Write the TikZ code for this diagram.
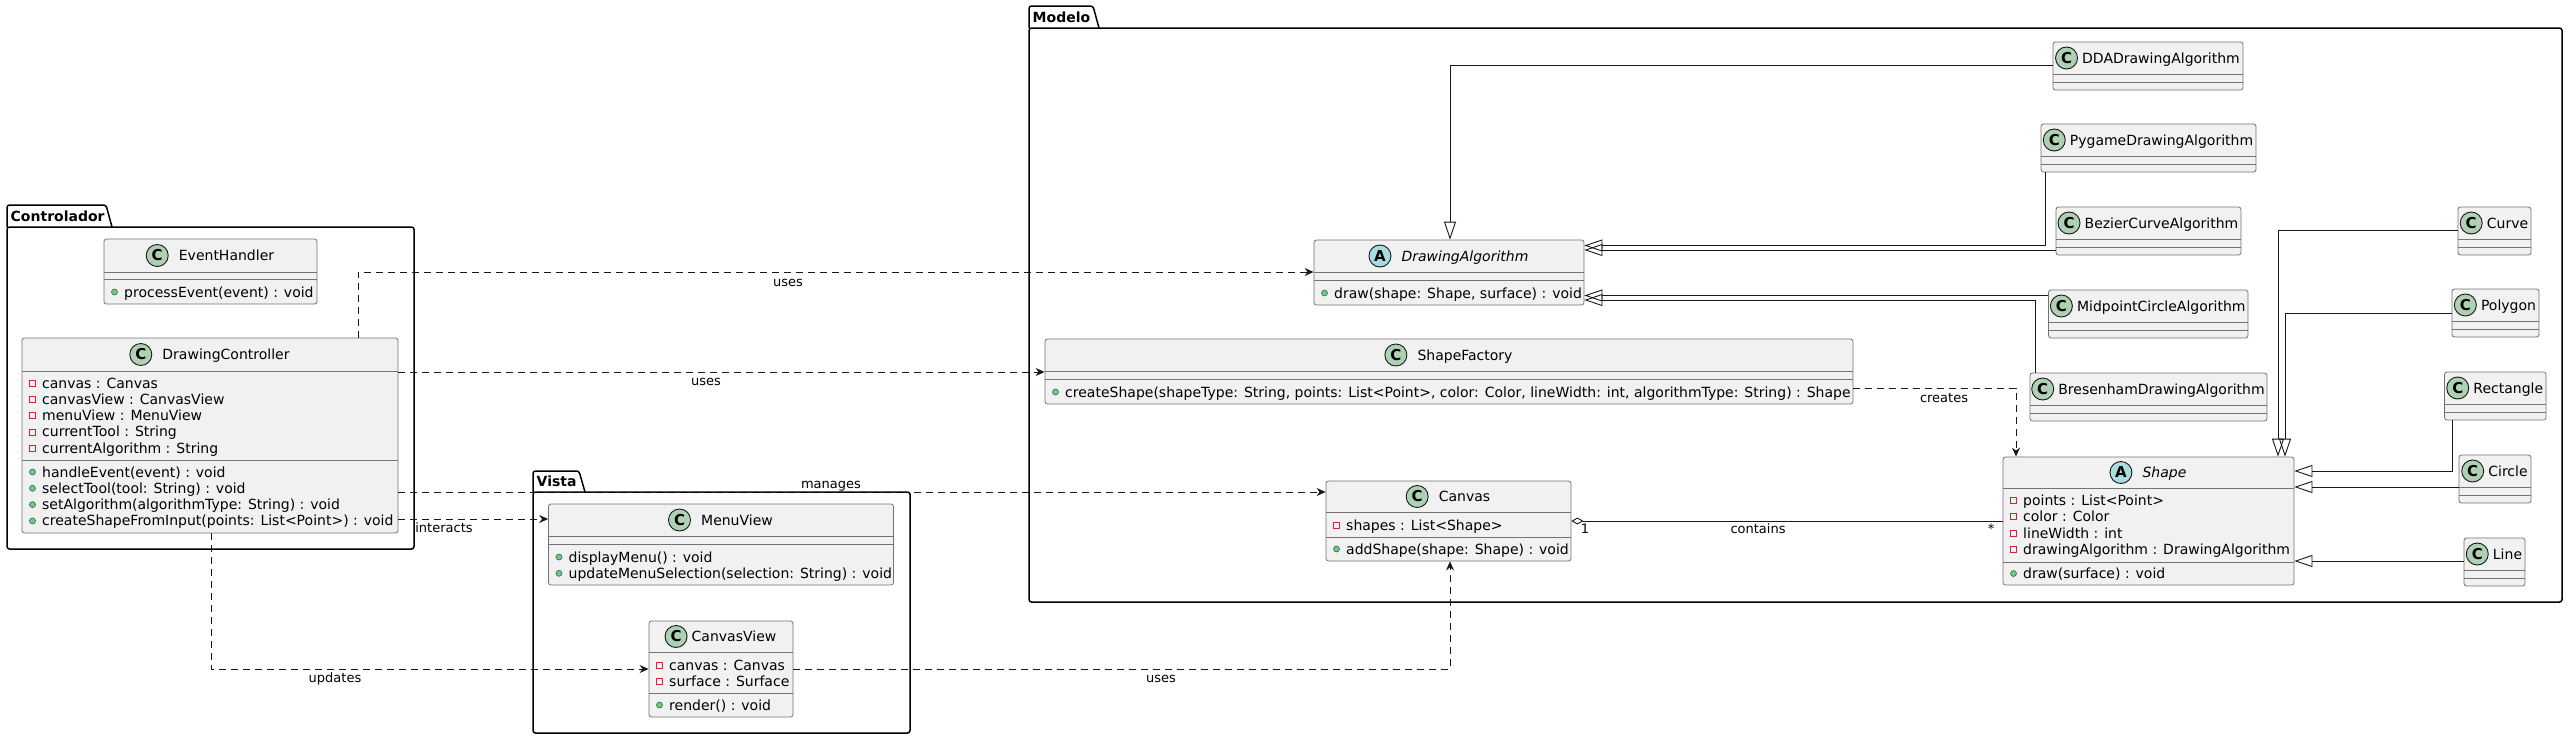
\documentclass[tikz,border=0pt]{standalone}
\usepackage{fontspec}
\setmainfont{DejaVu Sans}
\usetikzlibrary{arrows.meta,fit,calc}
\definecolor{clsbg}{HTML}{F1F1F1}
\definecolor{iconC}{HTML}{ADD1B2}
\definecolor{iconA}{HTML}{A9DCDF}
\definecolor{privc}{HTML}{C82930}
\definecolor{pubf}{HTML}{84BE84}
\definecolor{pubd}{HTML}{038048}
\definecolor{lnc}{HTML}{181818}
\tikzset{
 classbox/.style={draw=black!55, fill=clsbg, line width=0.8pt, rounded corners=2.5pt, inner sep=0pt},
 sepline/.style={draw=black!55, line width=0.8pt},
 ticon/.style={circle, draw=lnc, line width=0.9pt, minimum size=22pt, inner sep=0pt, font=\fontsize{15}{15}\selectfont\bfseries},
 cicon/.style={ticon, fill=iconC},
 aicon/.style={ticon, fill=iconA},
 ttl/.style={inner sep=0pt, font=\fontsize{14}{16}\selectfont, text height=10pt, text depth=0pt},
 mem/.style={anchor=west, inner sep=0pt, font=\fontsize{14}{16}\selectfont, text height=10pt, text depth=0pt},
 lbl/.style={inner sep=0pt, font=\fontsize{13}{15}\selectfont, text height=9pt, text depth=0pt},
 pkglbl/.style={anchor=west, inner sep=0pt, font=\fontsize{14}{16}\selectfont\bfseries, text height=10pt, text depth=0pt},
 pkg/.style={draw=black, line width=1.5pt, rounded corners=2.5pt},
 dep/.style={draw=lnc, line width=0.9pt, dash pattern=on 7pt off 5pt, -{Stealth[length=9pt,width=8pt,inset=3pt]}},
 gen/.style={draw=lnc, line width=0.9pt, -{Triangle[open, length=18pt, width=12pt]}},
 agg/.style={draw=lnc, line width=0.9pt, {Diamond[open, length=12pt, width=7pt]}-},
}
\newcommand\sepl[3]{\draw[sepline] (#1,#3) -- (#2,#3);}
% node, center y, icon style, letter, title, gap
\newcommand\hdr[6]{%
 \node[ttl] (#1-t) at ($(#1.north |- 0,#2)+({(22+#6)/2},0)$) {#5};
 \node[#3, anchor=east] (#1-i) at ($(#1-t.west)+(-#6,0)$) {#4};}
\newcommand\pubm[3]{\filldraw[fill=pubf, draw=pubd, line width=0.6pt] (#1+10.5,#2) circle[radius=3pt]; \node[mem] at (#1+20,#2) {#3};}
\newcommand\privm[3]{\draw[draw=privc, line width=0.8pt] (#1+7.5,#2-3) rectangle (#1+13.5,#2+3); \node[mem] at (#1+20,#2) {#3};}
% empty class: name x1 x2 top title
\newcommand\ecls[5]{%
 \node[classbox, fit={(#2,#4) (#3,#4+48)}] (#1) {};
 \sepl{#2}{#3}{#4+32}\sepl{#2}{#3}{#4+40}
 \hdr{#1}{#4+16}{cicon}{C}{#5}{4}}
% package: x1 ytab ybody x2 ybot xtab label name
\newcommand\pkgbox[8]{%
 \draw[pkg] (#1,#3) rectangle (#4,#5);
 \draw[pkg] (#1,#3) -- (#1,#2) -- (#6,#2) -- (#6+6,#3);
 \node[pkglbl] (#8) at (#1+3.5,{(#2+#3)/2}) {#7};}
\begin{document}
\begin{tikzpicture}[x=1pt,y=-1pt]
\useasboundingbox (0,0) rectangle (2568,739);
\fill[white] (0,0) rectangle (2568,739);
% packages
\pkgbox{7}{205}{227}{414}{549}{106}{Controlador}{pk-ctrl}
\pkgbox{533}{471}{492}{910}{733}{579}{Vista}{pk-vista}
\pkgbox{1029}{6}{28}{2562}{602}{1093}{Modelo}{pk-mod}
% EventHandler
\node[classbox, fit={(104,239) (317,304)}] (eh) {};
\sepl{104}{317}{272}\sepl{104}{317}{279}
\hdr{eh}{255.5}{cicon}{C}{EventHandler}{10}
\pubm{104}{292}{processEvent(event) : void}
% DrawingController
\node[classbox, fit={(22,338) (398,533)}] (dc) {};
\sepl{22}{398}{371}\sepl{22}{398}{460}
\hdr{dc}{354.5}{cicon}{C}{DrawingController}{10}
\privm{22}{383}{canvas : Canvas}
\privm{22}{399.3}{canvasView : CanvasView}
\privm{22}{415.6}{menuView : MenuView}
\privm{22}{431.9}{currentTool : String}
\privm{22}{448.2}{currentAlgorithm : String}
\pubm{22}{472}{handleEvent(event) : void}
\pubm{22}{488.3}{selectTool(tool: String) : void}
\pubm{22}{504.6}{setAlgorithm(algorithmType: String) : void}
\pubm{22}{520.9}{createShapeFromInput(points: List<Point>) : void}
% MenuView
\node[classbox, fit={(548.5,504) (893.5,585)}] (mv) {};
\sepl{548.5}{893.5}{536}\sepl{548.5}{893.5}{544}
\hdr{mv}{520}{cicon}{C}{MenuView}{10}
\pubm{548.5}{557}{displayMenu() : void}
\pubm{548.5}{573.3}{updateMenuSelection(selection: String) : void}
% CanvasView
\node[classbox, fit={(649,621) (793,717)}] (cv) {};
\sepl{649}{793}{652}\sepl{649}{793}{693}
\hdr{cv}{636.5}{cicon}{C}{CanvasView}{4}
\privm{649}{665}{canvas : Canvas}
\privm{649}{681.3}{surface : Surface}
\pubm{649}{705}{render() : void}
% DrawingAlgorithm
\node[classbox, fit={(1314,240) (1584,305)}] (da) {};
\sepl{1314}{1584}{272}\sepl{1314}{1584}{280}
\hdr{da}{256}{aicon}{A}{\itshape DrawingAlgorithm}{10}
\pubm{1314}{293}{draw(shape: Shape, surface) : void}
% ShapeFactory
\node[classbox, fit={(1045,339) (1853,404)}] (sf) {};
\sepl{1045}{1853}{371}\sepl{1045}{1853}{379}
\hdr{sf}{355}{cicon}{C}{ShapeFactory}{10}
\pubm{1045}{392}{createShape(shapeType: String, points: List<Point>, color: Color, lineWidth: int, algorithmType: String) : Shape}
% Canvas
\node[classbox, fit={(1326,481) (1571,561)}] (canvas) {};
\sepl{1326}{1571}{512}\sepl{1326}{1571}{537}
\hdr{canvas}{496.5}{cicon}{C}{Canvas}{10}
\privm{1326}{525.5}{shapes : List<Shape>}
\pubm{1326}{549}{addShape(shape: Shape) : void}
% Shape
\node[classbox, fit={(2003,457) (2294,585)}] (shape) {};
\sepl{2003}{2294}{488}\sepl{2003}{2294}{562}
\hdr{shape}{472.5}{aicon}{A}{\itshape Shape}{10}
\privm{2003}{500.5}{points : List<Point>}
\privm{2003}{516.8}{color : Color}
\privm{2003}{533.1}{lineWidth : int}
\privm{2003}{549.4}{drawingAlgorithm : DrawingAlgorithm}
\pubm{2003}{573.5}{draw(surface) : void}
% algorithm classes
\ecls{dda}{2053}{2243}{42}{DDADrawingAlgorithm}
\ecls{py}{2041}{2256}{124}{PygameDrawingAlgorithm}
\ecls{bz}{2056}{2241}{207}{BezierCurveAlgorithm}
\ecls{mp}{2048.5}{2248}{290}{MidpointCircleAlgorithm}
\ecls{br}{2030}{2267}{373}{BresenhamDrawingAlgorithm}
% shape classes
\ecls{cu}{2458}{2531}{207}{Curve}
\ecls{pg}{2452}{2539}{289}{Polygon}
\ecls{re}{2444.5}{2546}{372}{Rectangle}
\ecls{ci}{2459}{2531}{455}{Circle}
\ecls{li}{2464}{2525}{538}{Line}
% dependencies
\draw[dep] (358,0 |- dc.north) |- (da.west |- 0,272);
\draw[dep] (dc.east |- 0,372) -- (sf.west |- 0,372);
\draw[dep] (dc.east |- 0,492) -- (canvas.west |- 0,492);
\draw[dep] (dc.east |- 0,519) -- (mv.west |- 0,519);
\draw[dep] (211,0 |- dc.south) |- (cv.west |- 0,669);
\draw[dep] (cv.east |- 0,669) -| (1450,0 |- canvas.south);
\draw[dep] (sf.east |- 0,388) -| (2016,0 |- shape.north);
% aggregation
\draw[agg] (canvas.east |- 0,521) -- (shape.west |- 0,521);
% generalizations
\draw[gen] (dda.west |- 0,65) -| (1450,0 |- da.north);
\draw[gen] (2045,0 |- py.south) |- (da.east |- 0,245.5);
\draw[gen] (bz.west |- 0,250) -- (da.east |- 0,250);
\draw[gen] (mp.west |- 0,295.5) -- (da.east |- 0,295.5);
\draw[gen] (2035.5,0 |- br.north) |- (da.east |- 0,300);
\draw[gen] (cu.west |- 0,230) -| (2278,0 |- shape.north);
\draw[gen] (pg.west |- 0,313) -| (2285,0 |- shape.north);
\draw[gen] (2452,0 |- re.south) |- (shape.east |- 0,471);
\draw[gen] (ci.west |- 0,487) -- (shape.east |- 0,487);
\draw[gen] (li.west |- 0,561) -- (shape.east |- 0,561);
% labels
\node[lbl] (l-uses1) at (788,282) {uses};
\node[lbl] (l-uses2) at (706,381) {uses};
\node[lbl] (l-man) at (831,484) {manages};
\node[lbl] (l-int) at (444,528) {interacts};
\node[lbl] (l-upd) at (335,678) {updates};
\node[lbl] (l-uses3) at (1161,678) {uses};
\node[lbl] (l-cre) at (1944,398) {creates};
\node[lbl] (l-one) at (1585,529) {1};
\node[lbl] (l-con) at (1758,529) {contains};
\node[lbl] (l-star) at (1991,529) {*};
\end{tikzpicture}
\end{document}
